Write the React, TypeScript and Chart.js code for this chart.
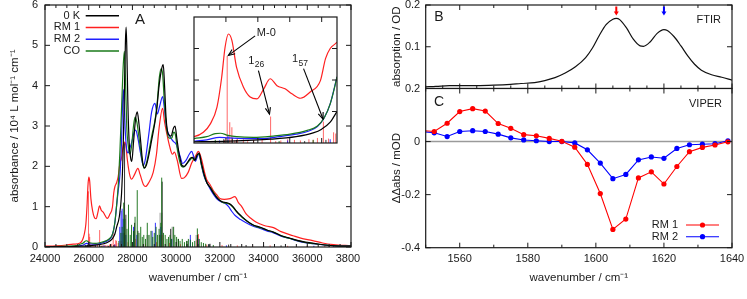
import React, { useEffect, useRef } from "react";
import { Chart, registerables } from "chart.js";

Chart.register(...registerables);

type Pair = [number, number];

const FONT = "'Liberation Sans', Arial, Helvetica, sans-serif";
const INK = "#1a1a1a";

// ---------------- Panel A : absorbance spectra ----------------
const SERIES_A = ["0 K", "RM 1", "RM 2", "CO"];
const COLORS_A = ["#000000", "#ff2020", "#2020ff", "#1a7a1a"];

const CURVE_0K: Pair[] = [
  [24000, 0.01], [25000, 0.01], [25600, 0.02], [26000, 0.03], [26500, 0.06], [26800, 0.1], [27000, 0.16],
  [27100, 0.22], [27200, 0.33], [27280, 0.5], [27400, 0.75], [27500, 1.3], [27570, 2.3], [27630, 3.8],
  [27680, 5.1], [27710, 5.45], [27740, 5.0], [27790, 3.6], [27850, 2.6], [27920, 2.2], [27970, 2.12],
  [28050, 2.6], [28150, 3.2], [28220, 3.35], [28300, 3.05], [28380, 2.6], [28470, 2.1], [28560, 1.96],
  [28650, 2.05], [28760, 2.3], [28880, 2.65], [29000, 3.0], [29110, 3.4], [29220, 4.0], [29330, 4.4],
  [29410, 4.52], [29470, 4.0], [29540, 3.2], [29640, 2.8], [29760, 2.75], [29880, 2.95], [29950, 3.0],
  [30030, 2.7], [30140, 2.3], [30270, 2.02], [30380, 2.0], [30520, 2.1], [30650, 2.2], [30760, 2.22],
  [30860, 2.15], [30960, 2.28], [31050, 2.33], [31150, 2.1], [31280, 1.8], [31400, 1.6], [31550, 1.48],
  [31700, 1.34], [31900, 1.2], [32100, 1.12], [32300, 1.1], [32450, 1.07], [32600, 1.0], [32770, 0.88],
  [33000, 0.76], [33250, 0.64], [33550, 0.54], [33850, 0.49], [34150, 0.42], [34450, 0.37], [34800, 0.28],
  [35150, 0.23], [35500, 0.17], [35900, 0.12], [36300, 0.09], [36800, 0.05], [37300, 0.03], [38000, 0.02],
];

const CURVE_RM1: Pair[] = [
  [24000, 0.02], [24500, 0.03], [25000, 0.05], [25300, 0.07], [25600, 0.1], [25710, 0.17], [25790, 0.3],
  [25870, 0.57], [25925, 1.04], [25965, 1.52], [26005, 1.73], [26045, 1.63], [26100, 1.2], [26180, 0.89],
  [26260, 0.73], [26340, 0.7], [26420, 0.86], [26495, 1.02], [26575, 0.91], [26670, 0.86], [26750, 0.78],
  [26850, 0.71], [26965, 0.81], [27085, 0.99], [27145, 1.34], [27200, 1.5], [27280, 1.6], [27350, 1.75],
  [27430, 2.08], [27500, 2.2], [27560, 2.45], [27620, 2.6], [27690, 2.55], [27770, 2.15], [27870, 1.8],
  [27960, 1.68], [28100, 1.8], [28250, 1.95], [28350, 1.8], [28500, 1.55], [28600, 1.5], [28750, 1.6],
  [28950, 1.85], [29100, 2.3], [29220, 2.95], [29380, 3.44], [29470, 3.1], [29570, 2.82], [29700, 2.5],
  [29830, 2.3], [29920, 2.35], [30050, 2.15], [30250, 1.7], [30380, 1.72], [30550, 1.85], [30710, 2.08],
  [30880, 2.25], [31020, 2.37], [31150, 2.2], [31300, 1.85], [31400, 1.67], [31550, 1.55], [31700, 1.4],
  [31850, 1.3], [32000, 1.2], [32200, 1.18], [32460, 1.2], [32690, 1.25], [32850, 1.1], [33000, 1.0],
  [33200, 0.82], [33400, 0.72], [33650, 0.62], [33850, 0.57], [34100, 0.52], [34450, 0.48], [34800, 0.38],
  [35350, 0.28], [35700, 0.22], [36250, 0.16], [36700, 0.1], [37200, 0.06], [38000, 0.03],
];

const CURVE_RM2: Pair[] = [
  [24000, 0.01], [25000, 0.01], [25500, 0.02], [25600, 0.03], [25750, 0.05], [25900, 0.09], [26000, 0.08],
  [26200, 0.07], [26400, 0.07], [26600, 0.1], [26800, 0.14], [26950, 0.19], [27050, 0.26], [27130, 0.4],
  [27200, 0.62], [27280, 1.05], [27350, 1.4], [27430, 1.8], [27500, 2.6], [27550, 3.6], [27585, 3.9],
  [27620, 3.6], [27670, 2.9], [27730, 2.45], [27800, 2.33], [27880, 2.45], [27970, 2.6], [28080, 2.85],
  [28150, 2.9], [28250, 2.7], [28380, 2.3], [28500, 2.02], [28600, 2.2], [28750, 2.8], [28880, 3.35],
  [29030, 3.56], [29140, 3.3], [29250, 3.5], [29380, 3.73], [29470, 3.4], [29570, 2.95], [29700, 2.75],
  [29870, 2.62], [30000, 2.55], [30180, 2.25], [30300, 2.07], [30450, 2.15], [30600, 2.3], [30710, 2.37],
  [30800, 2.25], [30880, 2.12], [30980, 2.25], [31050, 2.3], [31150, 2.05], [31280, 1.75], [31450, 1.55],
  [31650, 1.35], [31850, 1.2], [32050, 1.12], [32250, 1.08], [32400, 1.0], [32550, 0.88], [32700, 0.78],
  [32950, 0.68], [33200, 0.6], [33500, 0.52], [33850, 0.46], [34150, 0.4], [34450, 0.35], [34800, 0.27],
  [35200, 0.21], [35500, 0.16], [35900, 0.11], [36300, 0.08], [36800, 0.05], [37300, 0.03], [38000, 0.02],
];

const CURVE_CO: Pair[] = [
  [24000, 0.01], [25000, 0.02], [25500, 0.04], [25600, 0.07], [25750, 0.1], [25850, 0.15], [25910, 0.155],
  [26000, 0.12], [26100, 0.1], [26300, 0.09], [26530, 0.11], [26730, 0.14], [26930, 0.2], [27050, 0.27],
  [27130, 0.4], [27200, 0.62], [27280, 1.05], [27360, 1.6], [27430, 2.4], [27500, 3.4], [27570, 4.4],
  [27630, 4.85], [27680, 4.2], [27740, 3.0], [27810, 2.5], [27890, 2.3], [27960, 2.5], [28050, 3.0],
  [28120, 3.22], [28200, 3.1], [28280, 2.8], [28400, 2.3], [28530, 1.95], [28650, 2.1], [28780, 2.45],
  [28900, 2.8], [29020, 3.1], [29120, 3.5], [29230, 4.2], [29310, 4.42], [29380, 4.3], [29460, 3.6],
  [29560, 2.95], [29680, 2.7], [29800, 2.7], [29890, 2.85], [29960, 2.8], [30060, 2.4], [30200, 2.05],
  [30330, 1.98], [30470, 2.05], [30620, 2.15], [30740, 2.2], [30840, 2.15], [30950, 2.27], [31050, 2.3],
  [31150, 2.05], [31280, 1.78], [31420, 1.58], [31600, 1.45], [31750, 1.32], [31950, 1.18], [32150, 1.1],
  [32350, 1.08], [32500, 1.04], [32650, 0.95], [32800, 0.85], [33050, 0.72], [33300, 0.62], [33600, 0.52],
  [33900, 0.47], [34200, 0.41], [34500, 0.36], [34850, 0.27], [35200, 0.21], [35550, 0.16], [35950, 0.11],
  [36350, 0.08], [36850, 0.05], [37300, 0.03], [38000, 0.02],
];

// stick spectra: [wavenumber, intensity]
const STICKS_RM1: Pair[] = [
  [25960, 0.05], [25990, 1.38], [26020, 0.33], [26045, 0.25], [26080, 0.04], [26110, 0.08], [26180, 0.06],
  [26230, 0.03], [26300, 0.05], [26400, 0.05], [26500, 0.42], [26560, 0.03], [26620, 0.04], [26700, 0.06],
  [26780, 0.05], [26850, 0.04], [26950, 0.06], [27000, 0.05], [27050, 0.08], [27120, 0.34], [27180, 0.07],
  [27240, 0.17], [27265, 0.15], [27350, 0.1], [27480, 0.15], [27620, 0.35], [27800, 0.12], [28150, 0.2],
  [28600, 0.08], [29100, 0.12], [29350, 0.3], [29700, 0.1], [30200, 0.07], [30950, 0.18], [31020, 0.32],
  [31400, 0.06], [32100, 0.05], [32800, 0.04], [33500, 0.03], [34300, 0.04], [35100, 0.03], [36000, 0.03],
  [36800, 0.04], [37600, 0.03],
];
const STICKS_RM2: Pair[] = [
  [25900, 0.04], [26000, 0.12], [26700, 0.04], [27200, 0.06], [27420, 0.5], [27480, 0.9], [27530, 0.95],
  [27580, 0.7], [27700, 0.3], [28050, 0.5], [28200, 0.3], [28900, 0.4], [29050, 0.6], [29300, 0.5],
  [29800, 0.2], [30650, 0.3], [31000, 0.2], [31500, 0.06], [32300, 0.04], [36300, 0.03], [37200, 0.03],
];
const STICKS_0K: Pair[] = [
  [25950, 0.06], [26050, 0.08], [26100, 0.05], [26300, 0.04], [26900, 0.03], [27150, 0.05], [27640, 2.6],
  [27700, 0.8], [28100, 0.6], [28250, 0.4], [29250, 0.3], [29360, 1.62], [29750, 0.45], [30100, 0.2],
  [30500, 0.15], [30980, 0.3], [31550, 0.08], [32400, 0.06], [33200, 0.05], [34000, 0.04], [34800, 0.04],
  [36000, 0.03], [37000, 0.03],
];
const STICKS_CO: Pair[] = [
  [25850, 0.05], [26000, 0.04], [26600, 0.03], [27000, 0.05], [27380, 0.15], [27470, 0.35], [27530, 0.5],
  [27600, 1.1], [27660, 0.7], [27750, 0.45], [27820, 1.05], [27900, 0.3], [27960, 0.55], [28050, 0.4],
  [28120, 0.75], [28220, 1.41], [28300, 0.35], [28380, 0.5], [28450, 0.25], [28520, 0.3], [28600, 0.2],
  [28680, 0.6], [28760, 0.3], [28850, 0.4], [28930, 0.25], [29000, 0.35], [29080, 0.5], [29150, 0.3],
  [29220, 0.45], [29300, 0.6], [29340, 1.72], [29420, 0.35], [29500, 0.3], [29580, 0.2], [29650, 0.25],
  [29720, 0.3], [29780, 0.2], [29870, 0.5], [29940, 0.3], [30020, 0.25], [30100, 0.2], [30180, 0.15],
  [30280, 0.2], [30380, 0.12], [30480, 0.15], [30560, 0.2], [30650, 0.18], [30750, 0.12], [30850, 0.15],
  [30970, 0.46], [31060, 0.2], [31150, 0.12], [31250, 0.1], [31350, 0.08], [31500, 0.06], [31700, 0.05],
];
const STICKS_BROAD: Pair[] = [
  [27560, 0.35], [28700, 0.3], [29300, 0.85], [29850, 0.5], [30950, 0.3],
];

const X_TICKS_A = [24000, 26000, 28000, 30000, 32000, 34000, 36000, 38000];
const X_MINOR_A = [24500, 25000, 25500, 26500, 27000, 27500, 28500, 29000, 29500, 30500, 31000, 31500,
  32500, 33000, 33500, 34500, 35000, 35500, 36500, 37000, 37500];
const Y_TICKS_A = [0, 1, 2, 3, 4, 5, 6];

// inset of panel A
const INSET_X_RANGE = [25600, 27280];
const INSET_Y_RANGE = [0, 2];
const INSET_X_TICKS = [25975, 26350, 26725, 27100];
const INSET_Y_TICKS = [0.5, 1, 1.5];
const INSET_NOTES = [
  { text: "M-0", sub: "", tx: 26338, ty: 1.75, fx: 26318, fy: 1.7, px: 26004, py: 1.39 },
  { text: "1", sub: "26", tx: 26236, ty: 1.31, fx: 26357, fy: 1.15, px: 26487, py: 0.46 },
  { text: "1", sub: "57", tx: 26751, ty: 1.33, fx: 26887, fy: 1.18, px: 27116, py: 0.38 },
];

// ---------------- Panel B : FTIR ----------------
const FTIR: Pair[] = [
  [1550, 0.004], [1553, 0.005], [1557, 0.007], [1560, 0.007], [1565, 0.007], [1570, 0.008], [1575, 0.01],
  [1578, 0.012], [1582, 0.014], [1585, 0.019], [1588, 0.026], [1591, 0.037], [1594, 0.052], [1597, 0.074],
  [1599, 0.097], [1601, 0.127], [1603, 0.153], [1605, 0.166], [1606, 0.168], [1607, 0.165], [1609, 0.145],
  [1611, 0.118], [1613, 0.102], [1614, 0.101], [1616, 0.112], [1618, 0.132], [1620, 0.141], [1621, 0.139],
  [1623, 0.124], [1625, 0.102], [1627, 0.078], [1629, 0.058], [1631, 0.044], [1634, 0.033], [1637, 0.027],
  [1640, 0.02],
];
const FTIR_MARKS = [1606, 1620];
const FTIR_MARK_COLORS = ["#ff0000", "#0000ff"];
const Y_TICKS_B = [0.1, 0.2];

// ---------------- Panel C : VIPER ----------------
const VIPER_WN = [1548.8, 1552.5, 1556.3, 1560.0, 1563.8, 1567.5, 1571.3, 1575.0, 1578.8, 1582.5, 1586.3,
  1590.0, 1593.8, 1597.5, 1601.3, 1605.0, 1608.8, 1612.5, 1616.3, 1620.0, 1623.8, 1627.5, 1631.3, 1635.0, 1638.8];
const VIPER_RM1 = [0.042, 0.038, 0.069, 0.113, 0.124, 0.115, 0.068, 0.05, 0.026, 0.022, 0.012, 0.001, -0.021,
  -0.086, -0.196, -0.331, -0.292, -0.137, -0.114, -0.16, -0.094, -0.038, -0.022, -0.013, -0.001];
const VIPER_RM2 = [0.038, 0.033, 0.019, 0.038, 0.041, 0.038, 0.028, 0.014, 0.006, 0.003, 0.0, 0.0, -0.005,
  -0.031, -0.081, -0.14, -0.124, -0.069, -0.058, -0.063, -0.026, -0.012, -0.01, -0.008, 0.003];
const SERIES_C = ["RM 1", "RM 2"];
const COLORS_C = ["#ff0000", "#0000ff"];

const X_TICKS_BC = [1560, 1580, 1600, 1620, 1640];
const X_MINOR_10 = [1550, 1570, 1590, 1610, 1630];
const X_MINOR_5 = [1555, 1565, 1575, 1585, 1595, 1605, 1615, 1625, 1635];
const Y_TICKS_C = [-0.4, -0.2, 0, 0.2];

// ---------------- helpers ----------------
const pts = (a: Pair[]) => a.map(([x, y]) => ({ x, y }));
const stickPts = (a: Pair[]) => {
  const out: any[] = [];
  a.forEach(([x, h]) => out.push({ x, y: 0 }, { x, y: h }, { x, y: null }));
  return out;
};

function spectrumDatasets(): any[] {
  const curve = (label: string, data: Pair[], color: string) => ({
    label, data: pts(data), borderColor: color, backgroundColor: color, borderWidth: 1.2,
    pointRadius: 0, cubicInterpolationMode: "monotone", fill: false,
  });
  const stick = (data: Pair[], color: string, w: number) => ({
    label: "", data: stickPts(data), borderColor: color, borderWidth: w, pointRadius: 0,
    tension: 0, fill: false, spanGaps: false,
  });
  return [
    curve(SERIES_A[0], CURVE_0K, COLORS_A[0]),
    curve(SERIES_A[3], CURVE_CO, COLORS_A[3]),
    curve(SERIES_A[2], CURVE_RM2, COLORS_A[2]),
    curve(SERIES_A[1], CURVE_RM1, COLORS_A[1]),
    stick(STICKS_CO, "rgba(0,100,0,0.85)", 1),
    stick(STICKS_0K, "rgba(0,0,0,0.8)", 1),
    stick(STICKS_RM2, "rgba(0,0,255,0.8)", 1),
    stick(STICKS_RM1, "rgba(255,40,40,0.7)", 1),
    stick(STICKS_BROAD, "rgba(120,120,120,0.45)", 3),
  ];
}

type TickSpec = { major?: number[]; minor?: number[] };
type FrameSpec = { top?: TickSpec; bottom?: TickSpec; left?: TickSpec; right?: TickSpec };

function drawFrame(chart: any, spec: FrameSpec, majorLen = 5, minorLen = 3) {
  const { ctx, chartArea: a, scales } = chart;
  const xs = scales.x, ys = scales.y;
  ctx.save();
  ctx.strokeStyle = INK;
  ctx.lineWidth = 1;
  ctx.beginPath();
  const hor = (side: string, list: number[] | undefined, len: number) => {
    (list || []).forEach((v) => {
      const p = xs.getPixelForValue(v);
      if (p < a.left - 0.1 || p > a.right + 0.1) return;
      if (side === "bottom") { ctx.moveTo(p, a.bottom); ctx.lineTo(p, a.bottom - len); }
      else { ctx.moveTo(p, a.top); ctx.lineTo(p, a.top + len); }
    });
  };
  const ver = (side: string, list: number[] | undefined, len: number) => {
    (list || []).forEach((v) => {
      const p = ys.getPixelForValue(v);
      if (p < a.top - 0.1 || p > a.bottom + 0.1) return;
      if (side === "left") { ctx.moveTo(a.left, p); ctx.lineTo(a.left + len, p); }
      else { ctx.moveTo(a.right, p); ctx.lineTo(a.right - len, p); }
    });
  };
  hor("bottom", spec.bottom?.major, majorLen); hor("bottom", spec.bottom?.minor, minorLen);
  hor("top", spec.top?.major, majorLen); hor("top", spec.top?.minor, minorLen);
  ver("left", spec.left?.major, majorLen); ver("left", spec.left?.minor, minorLen);
  ver("right", spec.right?.major, majorLen); ver("right", spec.right?.minor, minorLen);
  ctx.stroke();
  ctx.lineWidth = 1.2;
  ctx.strokeRect(a.left, a.top, a.right - a.left, a.bottom - a.top);
  ctx.restore();
}

function arrowLine(ctx: CanvasRenderingContext2D, x0: number, y0: number, x1: number, y1: number, head = 7) {
  ctx.beginPath(); ctx.moveTo(x0, y0); ctx.lineTo(x1, y1); ctx.stroke();
  const ang = Math.atan2(y1 - y0, x1 - x0);
  ctx.beginPath();
  ctx.moveTo(x1 - head * Math.cos(ang - 0.38), y1 - head * Math.sin(ang - 0.38));
  ctx.lineTo(x1, y1);
  ctx.lineTo(x1 - head * Math.cos(ang + 0.38), y1 - head * Math.sin(ang + 0.38));
  ctx.stroke();
}

const tickFont = { family: FONT, size: 11 };
const titleFont = { family: FONT, size: 11.5 };

function xScale(min: number, max: number, ticks: number[], height: number, title: string | null): any {
  return {
    type: "linear", min, max, display: title !== null,
    grid: { display: false, drawTicks: false }, border: { display: false },
    afterBuildTicks: (s: any) => { s.ticks = ticks.map((v) => ({ value: v })); },
    afterFit: (s: any) => { s.height = height; s.paddingLeft = 0; s.paddingRight = 0; },
    ticks: { autoSkip: false, maxRotation: 0, minRotation: 0, padding: 5, color: INK, font: tickFont, callback: (v: any) => String(v) },
    title: { display: !!title, text: title || "", color: INK, font: titleFont, padding: { top: 0, bottom: 14.3 } },
  };
}
function yScale(min: number, max: number, ticks: number[], width: number, title: string, titlePad: number, tickPad: number): any {
  return {
    type: "linear", min, max,
    grid: { display: false, drawTicks: false }, border: { display: false },
    afterBuildTicks: (s: any) => { s.ticks = ticks.map((v) => ({ value: v })); },
    afterFit: (s: any) => { s.width = width; s.paddingTop = 0; s.paddingBottom = 0; },
    ticks: { autoSkip: false, padding: tickPad, color: INK, font: tickFont, callback: (v: any) => String(v) },
    title: { display: true, text: title, color: INK, font: titleFont, padding: { top: titlePad, bottom: 0 } },
  };
}

const baseOptions = {
  responsive: false, animation: false as const, events: [] as any[],
  plugins: { legend: { display: false }, tooltip: { enabled: false } },
};

export default function App() {
  const refA = useRef<HTMLCanvasElement>(null);
  const refI = useRef<HTMLCanvasElement>(null);
  const refB = useRef<HTMLCanvasElement>(null);
  const refC = useRef<HTMLCanvasElement>(null);

  useEffect(() => {
    const charts: Chart[] = [];

    // ---- Panel A
    charts.push(new Chart(refA.current!, {
      type: "line",
      data: { datasets: spectrumDatasets() },
      options: {
        ...baseOptions,
        layout: { padding: { left: 0, right: 9, top: 5, bottom: 0 } },
        scales: {
          x: xScale(24000, 38000, X_TICKS_A, 52, "wavenumber / cm⁻¹"),
          y: yScale(0, 6, Y_TICKS_A, 45, "absorbance / 10⁴ L mol⁻¹ cm⁻¹", 7.8, 7),
        },
      } as any,
      plugins: [{
        id: "decorA",
        afterDraw(chart: any) {
          drawFrame(chart, {
            bottom: { major: X_TICKS_A, minor: X_MINOR_A }, top: { major: X_TICKS_A, minor: X_MINOR_A },
            left: { major: Y_TICKS_A }, right: { major: Y_TICKS_A },
          });
          const { ctx, chartArea: a } = chart;
          ctx.save();
          ctx.font = `11px ${FONT}`;
          ctx.textBaseline = "middle";
          SERIES_A.forEach((name, i) => {
            const y = a.top + 10.7 + i * 11.75;
            ctx.fillStyle = INK; ctx.textAlign = "right";
            ctx.fillText(name, a.left + 35, y);
            ctx.strokeStyle = COLORS_A[i]; ctx.lineWidth = 1.5;
            ctx.beginPath(); ctx.moveTo(a.left + 40.7, y); ctx.lineTo(a.left + 74, y); ctx.stroke();
          });
          ctx.font = `15px ${FONT}`; ctx.textAlign = "center"; ctx.fillStyle = INK;
          ctx.fillText("A", a.left + 95, a.top + 15);
          ctx.restore();
        },
      }],
    }));

    // ---- Inset
    charts.push(new Chart(refI.current!, {
      type: "line",
      data: { datasets: spectrumDatasets() },
      options: {
        ...baseOptions,
        layout: { padding: { left: 2, right: 2, top: 2, bottom: 2 } },
        scales: {
          x: { type: "linear", display: false, min: INSET_X_RANGE[0], max: INSET_X_RANGE[1] },
          y: { type: "linear", display: false, min: INSET_Y_RANGE[0], max: INSET_Y_RANGE[1] },
        },
      } as any,
      plugins: [{
        id: "decorInset",
        beforeDraw(chart: any) {
          const { ctx, chartArea: a } = chart;
          ctx.save(); ctx.fillStyle = "#fff";
          ctx.fillRect(a.left - 1, a.top - 1, a.right - a.left + 2, a.bottom - a.top + 2);
          ctx.restore();
        },
        afterDraw(chart: any) {
          drawFrame(chart, {
            top: { major: INSET_X_TICKS }, bottom: { major: INSET_X_TICKS },
            left: { major: INSET_Y_TICKS }, right: { major: INSET_Y_TICKS },
          });
          const { ctx, scales } = chart;
          const xs = scales.x, ys = scales.y;
          ctx.save();
          ctx.strokeStyle = "#000"; ctx.lineWidth = 1.1; ctx.fillStyle = INK;
          INSET_NOTES.forEach((n) => {
            arrowLine(ctx, xs.getPixelForValue(n.fx), ys.getPixelForValue(n.fy), xs.getPixelForValue(n.px), ys.getPixelForValue(n.py), 7);
            const tx = xs.getPixelForValue(n.tx), ty = ys.getPixelForValue(n.ty);
            ctx.font = `11px ${FONT}`; ctx.textAlign = "left"; ctx.textBaseline = "middle";
            ctx.fillText(n.text, tx, ty);
            if (n.sub) {
              const w = ctx.measureText(n.text).width;
              ctx.font = `8.5px ${FONT}`;
              ctx.fillText(n.sub, tx + w + 0.5, ty + 4);
            }
          });
          ctx.restore();
        },
      }],
    }));

    // ---- Panel B
    charts.push(new Chart(refB.current!, {
      type: "line",
      data: {
        datasets: [{
          label: "FTIR", data: pts(FTIR), borderColor: "#111", borderWidth: 1.2, pointRadius: 0,
          cubicInterpolationMode: "monotone", fill: false,
        }],
      },
      options: {
        ...baseOptions,
        layout: { padding: { left: 0, right: 15, top: 5, bottom: 0.5 } },
        scales: {
          x: xScale(1550, 1640, X_TICKS_BC, 0, null),
          y: yScale(0, 0.2, Y_TICKS_B, 45.7, "absorption / OD", 9.5, 5.5),
        },
      } as any,
      plugins: [{
        id: "decorB",
        afterDraw(chart: any) {
          drawFrame(chart, {
            top: { major: X_TICKS_BC, minor: X_MINOR_10 },
            bottom: { major: X_TICKS_BC, minor: [...X_MINOR_10, ...X_MINOR_5] },
            left: { major: Y_TICKS_B }, right: { major: Y_TICKS_B },
          });
          const { ctx, chartArea: a, scales } = chart;
          ctx.save();
          FTIR_MARKS.forEach((m, i) => {
            const x = scales.x.getPixelForValue(m);
            ctx.strokeStyle = FTIR_MARK_COLORS[i]; ctx.fillStyle = FTIR_MARK_COLORS[i];
            ctx.lineWidth = 2;
            ctx.beginPath(); ctx.moveTo(x, a.top + 1.5); ctx.lineTo(x, a.top + 7.5); ctx.stroke();
            ctx.beginPath(); ctx.moveTo(x - 2.5, a.top + 6.5); ctx.lineTo(x + 2.5, a.top + 6.5); ctx.lineTo(x, a.top + 10.5); ctx.closePath(); ctx.fill();
          });
          ctx.fillStyle = INK; ctx.textBaseline = "middle";
          ctx.font = `14px ${FONT}`; ctx.textAlign = "center";
          ctx.fillText("B", a.left + 13.3, a.top + 11.7);
          ctx.font = `11px ${FONT}`; ctx.textAlign = "right";
          ctx.fillText("FTIR", a.right - 11, a.top + 14.5);
          ctx.restore();
        },
      }],
    }));

    // ---- Panel C
    const viper = (label: string, ys: number[], color: string) => ({
      label, data: VIPER_WN.map((x, i) => ({ x, y: ys[i] })), borderColor: color, backgroundColor: color,
      borderWidth: 1.1, pointRadius: 2.6, pointBorderWidth: 0, pointStyle: "circle", tension: 0, fill: false,
      clip: { left: 0, right: 4, top: 4, bottom: 4 },
    });
    charts.push(new Chart(refC.current!, {
      type: "line",
      data: { datasets: [viper(SERIES_C[0], VIPER_RM1, COLORS_C[0]), viper(SERIES_C[1], VIPER_RM2, COLORS_C[1])] },
      options: {
        ...baseOptions,
        layout: { padding: { left: 0, right: 15, top: 8.5, bottom: 0 } },
        scales: {
          x: xScale(1550, 1640, X_TICKS_BC, 51.3, "wavenumber / cm⁻¹"),
          y: yScale(-0.4, 0.2, Y_TICKS_C, 45.7, "ΔΔabs / mOD", 9.5, 5.5),
        },
      } as any,
      plugins: [{
        id: "decorC",
        beforeDatasetsDraw(chart: any) {
          const { ctx, chartArea: a, scales } = chart;
          const y0 = scales.y.getPixelForValue(0);
          ctx.save(); ctx.strokeStyle = "#9a9a9a"; ctx.lineWidth = 1.5;
          ctx.beginPath(); ctx.moveTo(a.left, y0); ctx.lineTo(a.right, y0); ctx.stroke();
          ctx.restore();
        },
        afterDraw(chart: any) {
          drawFrame(chart, {
            top: { major: X_TICKS_BC, minor: X_MINOR_10 },
            bottom: { major: X_TICKS_BC, minor: X_MINOR_10 },
            left: { major: Y_TICKS_C }, right: { major: Y_TICKS_C },
          });
          const { ctx, chartArea: a } = chart;
          ctx.save();
          ctx.fillStyle = INK; ctx.textBaseline = "middle";
          ctx.font = `14px ${FONT}`; ctx.textAlign = "center";
          ctx.fillText("C", a.left + 13.3, a.top + 13.2);
          ctx.font = `11px ${FONT}`; ctx.textAlign = "right";
          ctx.fillText("VIPER", a.right - 10, a.top + 15.5);
          SERIES_C.forEach((name, i) => {
            const y = a.top + 136.5 + i * 11.7;
            ctx.fillStyle = INK; ctx.textAlign = "right";
            ctx.fillText(name, a.left + 252.3, y);
            ctx.strokeStyle = COLORS_C[i]; ctx.fillStyle = COLORS_C[i]; ctx.lineWidth = 1.1;
            ctx.beginPath(); ctx.moveTo(a.left + 260.3, y); ctx.lineTo(a.left + 293.3, y); ctx.stroke();
            ctx.beginPath(); ctx.arc(a.left + 276.8, y, 2.6, 0, Math.PI * 2); ctx.fill();
          });
          ctx.restore();
        },
      }],
    }));

    return () => charts.forEach((c) => c.destroy());
  }, []);

  const abs = (l: number, t: number, w: number, h: number, z = 1): React.CSSProperties => ({
    position: "absolute", left: l, top: t, width: w, height: h, zIndex: z,
  });

  return (
    <div style={{ position: "absolute", left: 0, top: 0, width: 747, height: 299, background: "#fff", overflow: "hidden" }}>
      <canvas ref={refA} width={360} height={299} style={abs(0, 0, 360, 299, 1)} />
      <canvas ref={refI} width={147} height={130} style={abs(192, 15, 147, 130, 2)} />
      <canvas ref={refB} width={367} height={89} style={abs(380, 0, 367, 89, 1)} />
      <canvas ref={refC} width={367} height={219} style={abs(380, 80, 367, 219, 2)} />
    </div>
  );
}
